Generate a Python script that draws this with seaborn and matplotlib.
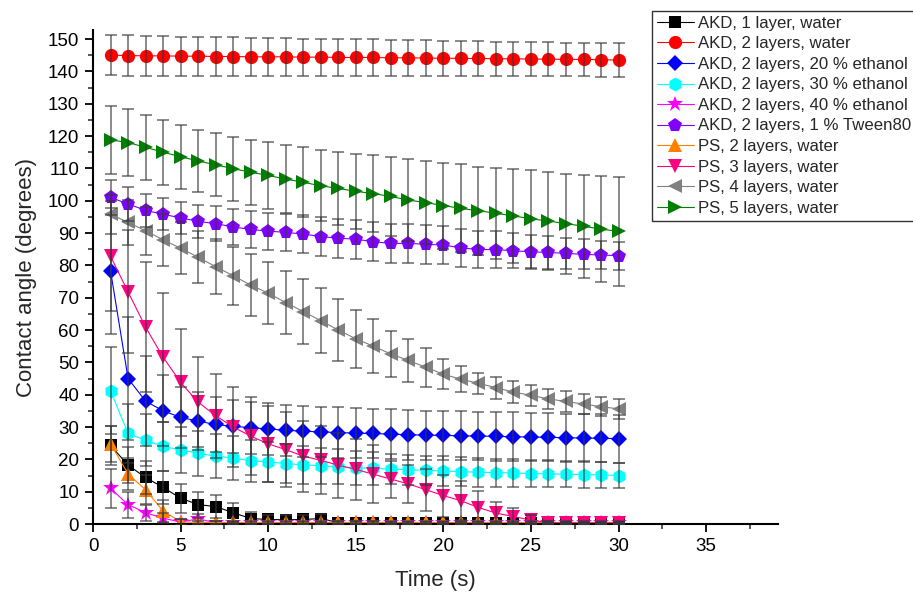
import matplotlib
matplotlib.use("Agg")
import matplotlib.pyplot as plt
import seaborn as sns
import pandas as pd
from matplotlib.ticker import MultipleLocator

time_s = list(range(1, 31))

labels = ["AKD, 1 layer, water", "AKD, 2 layers, water", "AKD, 2 layers, 20 % ethanol",
          "AKD, 2 layers, 30 % ethanol", "AKD, 2 layers, 40 % ethanol", "AKD, 2 layers, 1 % Tween80",
          "PS, 2 layers, water", "PS, 3 layers, water", "PS, 4 layers, water", "PS, 5 layers, water"]

akd1_water = [24.3, 18.2, 14.4, 11.3, 8.0, 6.0, 5.4, 3.5, 1.7, 1.4, 1.3, 1.4, 1.7, 0.4, 0.4,
              0.4, 0.3, 0.3, 0.3, 0.3, 0.3, 0.3, 0.3, 0.3, 0.3, 0.3, 0.3, 0.3, 0.3, 0.3]
akd1_water_err = [6.0, 5.5, 5.0, 5.0, 4.5, 4.0, 3.5, 3.0, 2.0, 1.5, 1.5, 1.5, 1.5, 0.5, 0.5,
                  0.5, 0.4, 0.4, 0.4, 0.4, 0.4, 0.4, 0.4, 0.4, 0.4, 0.4, 0.4, 0.4, 0.4, 0.4]

akd2_water = [145.0, 144.9, 144.8, 144.8, 144.7, 144.7, 144.6, 144.6, 144.5, 144.5, 144.5, 144.4, 144.4, 144.3, 144.3,
              144.3, 144.2, 144.2, 144.1, 144.1, 144.0, 144.0, 143.9, 143.9, 143.8, 143.8, 143.7, 143.7, 143.6, 143.5]
akd2_water_err = [6.2, 6.2, 6.1, 6.1, 6.0, 6.0, 5.9, 5.9, 5.8, 5.8, 5.8, 5.7, 5.7, 5.6, 5.6,
                  5.6, 5.5, 5.5, 5.5, 5.4, 5.4, 5.4, 5.3, 5.3, 5.3, 5.2, 5.2, 5.2, 5.2, 5.2]

akd2_eth20 = [78.3, 45.0, 38.0, 35.0, 33.0, 31.8, 30.8, 30.2, 29.8, 29.4, 29.0, 28.7, 28.5, 28.3, 28.1,
              28.0, 27.8, 27.6, 27.5, 27.4, 27.3, 27.2, 27.1, 27.0, 26.9, 26.8, 26.7, 26.6, 26.5, 26.4]
akd2_eth20_err = [19.5, 19.0, 14.0, 11.0, 9.5, 9.0, 8.5, 8.2, 8.0, 8.0, 7.9, 7.9, 7.8, 7.8, 7.8,
                  7.7, 7.7, 7.7, 7.6, 7.6, 7.6, 7.5, 7.5, 7.5, 7.5, 7.4, 7.4, 7.4, 7.4, 7.4]

akd2_eth30 = [41.2, 28.0, 25.9, 24.0, 22.9, 21.9, 21.0, 20.4, 19.6, 19.2, 18.7, 18.3, 18.0, 17.7, 17.4,
              17.2, 17.0, 16.8, 16.6, 16.4, 16.2, 16.0, 15.9, 15.8, 15.6, 15.5, 15.4, 15.3, 15.2, 15.0]
akd2_eth30_err = [13.5, 9.0, 8.0, 7.5, 7.2, 7.0, 6.8, 6.7, 6.5, 6.2, 6.0, 5.8, 5.6, 5.4, 5.2,
                  5.0, 4.6, 4.6, 4.5, 4.5, 4.4, 4.4, 4.3, 4.3, 4.2, 4.2, 4.1, 4.1, 4.0, 4.0]

akd2_eth40 = [11.0, 6.0, 3.5, 1.8, 0.6, 1.6, 0.4, 0.3, 0.3, 0.3, 0.3, 0.3, 0.3, 0.3, 0.3,
              0.3, 0.3, 0.3, 0.3, 0.3, 0.3, 0.3, 0.3, 0.3, 0.3, 0.3, 0.3, 0.3, 0.3, 0.3]
akd2_eth40_err = [5.9, 4.0, 2.5, 1.5, 1.0, 1.5, 0.5, 0.4, 0.4, 0.4, 0.4, 0.4, 0.4, 0.4, 0.4,
                  0.4, 0.4, 0.4, 0.4, 0.4, 0.4, 0.4, 0.4, 0.4, 0.4, 0.4, 0.4, 0.4, 0.4, 0.4]

akd2_tween = [101.0, 99.0, 97.0, 95.8, 94.7, 93.6, 92.9, 91.9, 91.1, 90.6, 90.2, 89.7, 88.9, 88.4, 88.1,
              87.3, 86.8, 86.8, 86.5, 86.3, 85.4, 84.9, 84.9, 84.5, 84.2, 84.0, 83.7, 83.4, 83.2, 83.0]
akd2_tween_err = [5.5, 5.2, 5.0, 5.0, 5.0, 5.2, 5.4, 5.5, 5.6, 5.7, 5.8, 5.9, 6.0, 6.0, 6.0,
                  6.0, 6.0, 6.0, 6.0, 6.0, 6.0, 5.8, 5.6, 5.4, 5.2, 5.0, 4.8, 4.6, 4.4, 4.3]

ps2_water = [24.8, 15.5, 10.6, 4.0, 0.7, 0.5, 0.5, 0.5, 0.5, 0.5, 0.5, 0.5, 0.5, 0.5, 0.5,
             0.5, 0.5, 0.5, 0.5, 0.5, 0.5, 0.5, 0.5, 0.5, 0.5, 0.5, 0.5, 0.5, 0.5, 0.5]
ps2_water_err = [5.5, 5.0, 4.5, 3.5, 1.0, 0.5, 0.5, 0.5, 0.5, 0.5, 0.5, 0.5, 0.5, 0.5, 0.5,
                 0.5, 0.5, 0.5, 0.5, 0.5, 0.5, 0.5, 0.5, 0.5, 0.5, 0.5, 0.5, 0.5, 0.5, 0.5]

ps3_water = [82.8, 71.8, 60.9, 51.6, 43.8, 37.7, 33.5, 30.0, 27.2, 24.8, 23.0, 21.0, 19.7, 18.2, 16.9,
             15.4, 13.9, 12.4, 10.6, 8.8, 7.2, 5.1, 3.4, 2.3, 1.2, 0.4, 0.3, 0.3, 0.3, 0.3]
ps3_water_err = [17.0, 19.0, 20.0, 20.0, 16.5, 14.0, 13.0, 12.5, 12.0, 11.8, 11.5, 11.0, 10.5, 10.0, 9.5,
                 9.0, 5.7, 6.0, 6.5, 6.5, 6.0, 5.0, 3.5, 2.5, 1.5, 0.5, 0.4, 0.4, 0.4, 0.4]

ps4_water = [95.8, 93.3, 90.7, 87.9, 85.3, 82.5, 79.6, 76.8, 73.9, 71.4, 68.5, 65.7, 62.9, 60.0, 57.3,
             55.0, 52.6, 50.6, 48.5, 46.3, 44.8, 43.5, 42.2, 40.8, 39.8, 38.7, 37.9, 37.1, 36.3, 35.6]
ps4_water_err = [6.0, 7.0, 7.5, 8.0, 8.0, 8.0, 8.5, 9.0, 9.5, 9.5, 9.8, 10.0, 10.0, 9.7, 9.0,
                 8.4, 7.0, 6.6, 6.0, 4.6, 4.0, 3.3, 3.4, 3.4, 3.3, 3.2, 3.1, 3.0, 3.0, 3.0]

ps5_water = [118.8, 118.0, 116.5, 115.0, 113.6, 112.3, 111.1, 109.9, 108.8, 107.8, 106.7, 105.7, 104.6, 103.8, 102.9,
             102.2, 101.3, 100.2, 99.4, 98.5, 97.6, 96.9, 96.1, 95.3, 94.4, 93.7, 92.9, 92.1, 91.2, 90.5]
ps5_water_err = [10.5, 10.3, 10.0, 10.0, 9.9, 9.7, 9.8, 9.9, 10.1, 10.3, 10.5, 10.8, 11.0, 11.3, 11.6,
                 11.8, 12.2, 12.6, 12.9, 13.3, 13.6, 13.6, 14.1, 14.5, 15.1, 15.2, 15.5, 15.9, 16.4, 16.8]

values = [akd1_water, akd2_water, akd2_eth20, akd2_eth30, akd2_eth40, akd2_tween,
          ps2_water, ps3_water, ps4_water, ps5_water]
errors = [akd1_water_err, akd2_water_err, akd2_eth20_err, akd2_eth30_err, akd2_eth40_err, akd2_tween_err,
          ps2_water_err, ps3_water_err, ps4_water_err, ps5_water_err]

colors = ["#000000", "#FF0000", "#0000FF", "#00FFFF", "#FF00FF", "#8000FF",
          "#FF8000", "#FF0080", "#808080", "#008000"]
markers = ["s", "o", "D", "h", "*", "p", "^", "v", "<", ">"]
msizes = [8.5, 9.5, 8.5, 10, 12, 10, 10.5, 10.5, 10.5, 10.5]

sns.set_style("ticks")
plt.rcParams["font.family"] = ["Liberation Sans", "DejaVu Sans"]

fig = plt.figure(figsize=(9.13, 5.95), dpi=100)
ax = fig.add_axes([0.1019, 0.1193, 0.7502, 0.8303])

handles = []
for lab, v, c, m, ms in zip(labels, values, colors, markers, msizes):
    df = pd.DataFrame({"t": time_s, "v": v})
    sns.lineplot(data=df, x="t", y="v", ax=ax, color=c, marker=m, markersize=ms,
                 markeredgecolor=c, markeredgewidth=0, linewidth=0.8, label=lab, zorder=2)
    handles.append(ax.lines[-1])

for v, e in zip(values, errors):
    ax.errorbar(time_s, v, yerr=e, fmt="none", ecolor="#383838", elinewidth=1.1,
                capsize=4, capthick=1.1, alpha=0.75, zorder=4)

ax.set_xlim(0, 39.1)
ax.set_ylim(0, 152.8)
ax.xaxis.set_major_locator(MultipleLocator(5))
ax.xaxis.set_minor_locator(MultipleLocator(2.5))
ax.yaxis.set_major_locator(MultipleLocator(10))
ax.yaxis.set_minor_locator(MultipleLocator(5))
ax.tick_params(axis="both", which="major", direction="out", length=6, width=1.3,
               labelsize=13.5, colors="black", pad=4)
ax.tick_params(axis="both", which="minor", direction="out", length=3.5, width=1.1)
for s in ["top", "right"]:
    ax.spines[s].set_visible(False)
for s in ["left", "bottom"]:
    ax.spines[s].set_linewidth(1.5)
    ax.spines[s].set_color("black")

ax.set_xlabel("Time (s)", fontsize=16, labelpad=11)
ax.set_ylabel("Contact angle (degrees)", fontsize=16, labelpad=8)

leg = ax.legend(handles=handles, labels=labels, loc="upper left",
                bbox_to_anchor=(0.7138, 0.982), bbox_transform=fig.transFigure,
                fontsize=12.1, frameon=True, fancybox=False, edgecolor="black",
                borderaxespad=0, borderpad=0.3, labelspacing=0.33, handlelength=2.2,
                handletextpad=0.25)
leg.get_frame().set_linewidth(1.0)
leg.set_zorder(10)

fig.savefig("out.png", dpi=100)
